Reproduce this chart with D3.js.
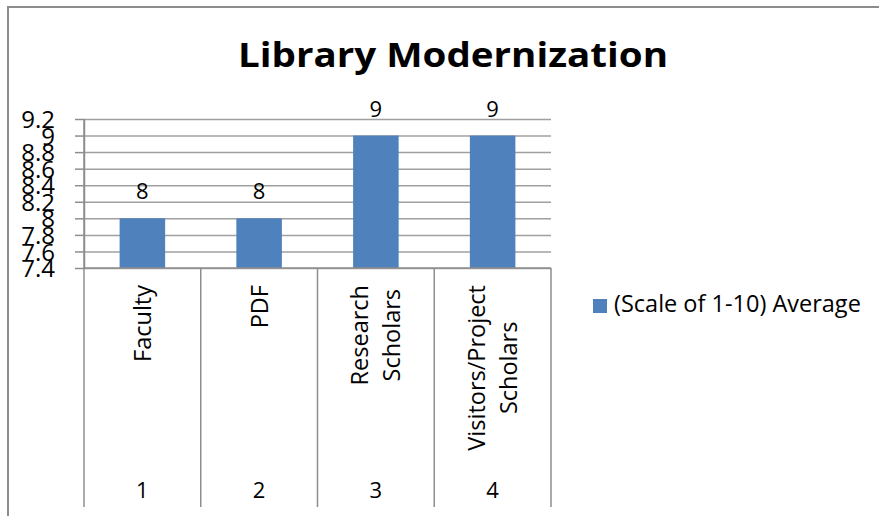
<!DOCTYPE html>
<html>
<head>
<meta charset="utf-8">
<script src="https://cdn.jsdelivr.net/npm/d3@7/dist/d3.min.js"></script>
<style>
  html, body { margin: 0; padding: 0; background: #fff; }
  svg { display: block; }
  text { font-family: "Open Sans", Lato, sans-serif; fill: #000; }
</style>
</head>
<body>
<svg id="chart" width="879" height="516"></svg>
<script>
// Survey results: library modernization rating per user group
const categories = ["Faculty", "PDF", "Research Scholars", "Visitors/Project Scholars"];
const categoryLines = [["Faculty"], ["PDF"], ["Research", "Scholars"], ["Visitors/Project", "Scholars"]];
const categoryNumbers = ["1", "2", "3", "4"];
const averages = [8, 8, 9, 9];
const yTicks = [7.4, 7.6, 7.8, 8, 8.2, 8.4, 8.6, 8.8, 9, 9.2];
const seriesName = "(Scale of 1-10) Average";
const title = "Library Modernization";

const svg = d3.select("#chart");
const W = 879, H = 516;

const plot = { left: 84, right: 551, top: 119, bottom: 268 };
const catBoxBottom = 507;
const gridColor = "#a0a0a0";
const axisColor = "#8e8e8e";
const barColor = "#4F81BD";

// outer chart frame
svg.append("rect")
  .attr("x", 8).attr("y", 7)
  .attr("width", W + 20).attr("height", H + 20)
  .attr("fill", "none").attr("stroke", "#8c8c8c").attr("stroke-width", 2);

// title, set wide
svg.append("text")
  .attr("x", 453).attr("y", 67)
  .attr("text-anchor", "middle")
  .attr("textLength", 430).attr("lengthAdjust", "spacingAndGlyphs")
  .style("font-weight", "bold").style("font-size", "34px")
  .text(title);

const x = d3.scaleBand()
  .domain(categories)
  .range([plot.left, plot.right])
  .paddingInner(0.61).paddingOuter(0.305);

const y = d3.scaleLinear()
  .domain([d3.min(yTicks), d3.max(yTicks)])
  .range([plot.bottom, plot.top]);

// horizontal gridlines
const grid = svg.append("g")
  .attr("transform", `translate(${plot.left},0)`)
  .call(d3.axisLeft(y).tickValues(yTicks).tickSize(-(plot.right - plot.left)).tickFormat(""));
grid.select(".domain").remove();
grid.selectAll(".tick line").attr("stroke", gridColor).attr("stroke-width", 1.5);

// value axis with tick marks and labels
const yAxis = svg.append("g")
  .attr("transform", `translate(${plot.left},0)`)
  .call(d3.axisLeft(y).tickValues(yTicks).tickSizeInner(9).tickSizeOuter(0)
    .tickPadding(20).tickFormat(d => String(+d.toFixed(1))));
yAxis.select(".domain").attr("stroke", axisColor).attr("stroke-width", 1.5);
yAxis.selectAll(".tick line").attr("stroke", axisColor).attr("stroke-width", 1.5);
yAxis.selectAll(".tick text")
  .attr("fill", "#000").attr("dy", "0.36em")
  .style("font-size", "24px").style("font-family", "'Open Sans', sans-serif");

// bars
svg.append("g").selectAll("rect")
  .data(averages)
  .join("rect")
  .attr("x", (d, i) => x(categories[i]))
  .attr("y", d => y(d))
  .attr("width", x.bandwidth())
  .attr("height", d => y(y.domain()[0]) - y(d))
  .attr("fill", barColor);

// value labels
svg.append("g").selectAll("text")
  .data(averages)
  .join("text")
  .attr("x", (d, i) => x(categories[i]) + x.bandwidth() / 2)
  .attr("y", d => y(d) - 19)
  .attr("text-anchor", "middle")
  .style("font-size", "22px")
  .text(d => d);

// category table below the plot
const step = x.step();
const box = svg.append("g");
box.append("line")
  .attr("x1", plot.left).attr("x2", plot.right)
  .attr("y1", plot.bottom).attr("y2", plot.bottom)
  .attr("stroke", axisColor).attr("stroke-width", 1.5);
box.selectAll("line.sep")
  .data(d3.range(categories.length + 1))
  .join("line")
  .attr("class", "sep")
  .attr("x1", i => plot.left + i * step).attr("x2", i => plot.left + i * step)
  .attr("y1", i => i === 0 ? plot.top : plot.bottom)
  .attr("y2", catBoxBottom)
  .attr("stroke", axisColor).attr("stroke-width", 1.5);

// rotated category names, top-aligned, lines centred on each other
const labelTop = 285;
const lineGap = 32;
const catLabels = box.selectAll("g.cat")
  .data(categories)
  .join("g")
  .attr("class", "cat");
catLabels.each(function (c, i) {
  const g = d3.select(this);
  const lines = categoryLines[i];
  const cx = x(c) + x.bandwidth() / 2;
  const texts = lines.map(ln => g.append("text")
    .style("font-size", "23.5px")
    .attr("text-anchor", "middle")
    .attr("dy", "0.36em")
    .text(ln));
  const maxLen = d3.max(texts, t => t.node().getComputedTextLength());
  const midY = labelTop + maxLen / 2;
  texts.forEach((t, j) => {
    const lx = cx + (j - (lines.length - 1) / 2) * lineGap;
    t.attr("transform", `translate(${lx},${midY}) rotate(-90)`);
  });
});

// category index row
box.selectAll("text.num")
  .data(categoryNumbers)
  .join("text")
  .attr("class", "num")
  .attr("x", (d, i) => x(categories[i]) + x.bandwidth() / 2)
  .attr("y", 498)
  .attr("text-anchor", "middle")
  .style("font-size", "22px")
  .text(d => d);

// legend
const legend = svg.append("g");
legend.append("rect")
  .attr("x", 593).attr("y", 299).attr("width", 14).attr("height", 14)
  .attr("fill", barColor);
legend.append("text")
  .attr("x", 614).attr("y", 312)
  .style("font-size", "23.5px")
  .text(seriesName);
</script>
</body>
</html>
